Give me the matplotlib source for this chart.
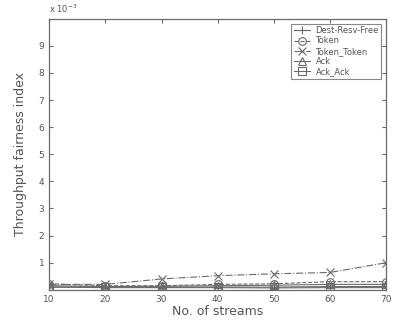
"""Throughput fairness index versus number of streams for each scheme."""

import matplotlib
matplotlib.use("Agg")
import matplotlib.pyplot as plt
import numpy as np

streams = [10, 20, 30, 40, 50, 60, 70]

dest_resv_free = [0.10, 0.08, 0.08, 0.08, 0.07, 0.08, 0.08]
token = [0.22, 0.15, 0.15, 0.20, 0.22, 0.30, 0.30]
token_token = [0.20, 0.20, 0.40, 0.52, 0.59, 0.64, 1.00]
ack = [0.15, 0.12, 0.13, 0.15, 0.17, 0.20, 0.20]
ack_ack = [0.10, 0.10, 0.10, 0.10, 0.10, 0.12, 0.12]

series = [
    ("Dest-Resv-Free", dest_resv_free, "+", "-"),
    ("Token", token, "o", "--"),
    ("Token_Token", token_token, "x", "-."),
    ("Ack", ack, "^", "-"),
    ("Ack_Ack", ack_ack, "s", "-"),
]

INK = "#6a6a6a"
plt.rcParams["font.family"] = ["DejaVu Sans"]

fig = plt.figure(figsize=(3.93, 3.22), dpi=100)
ax = fig.add_axes([0.125, 0.10, 0.858, 0.842])

for label, values, marker, style in series:
    ax.plot(
        streams,
        np.array(values) * 1e-3,
        linestyle=style,
        marker=marker,
        color=INK,
        linewidth=0.8,
        markersize=5.5,
        markerfacecolor="none",
        markeredgewidth=0.8,
        label=label,
    )

ax.set_xlim(10, 70)
ax.set_ylim(0, 0.01)
ax.set_xticks(streams)
ax.set_yticks(np.arange(1, 10) * 1e-3)
ax.set_yticklabels([str(v) for v in range(1, 10)])
ax.tick_params(axis="both", direction="in", length=3, labelsize=6.5, colors=INK,
               top=True, right=True, labelcolor="#555555")
for spine in ax.spines.values():
    spine.set_color(INK)
    spine.set_linewidth(0.9)

ax.text(0.0, 1.012, r"x 10$^{-3}$", transform=ax.transAxes, fontsize=6,
        color="#555555", ha="left", va="bottom")
ax.set_xlabel("No. of streams", fontsize=9, color="#555555", labelpad=1)
ax.set_ylabel("Throughput fairness index", fontsize=9, color="#555555", labelpad=8)

leg = ax.legend(loc="upper right", fontsize=6, frameon=True, fancybox=False,
                borderpad=0.3, labelspacing=0.15, handlelength=2.0,
                handletextpad=0.6, borderaxespad=0.6)
leg.get_frame().set_edgecolor(INK)
leg.get_frame().set_linewidth(0.8)
for text in leg.get_texts():
    text.set_color("#555555")

fig.savefig("out.png", dpi=100, facecolor="white")
